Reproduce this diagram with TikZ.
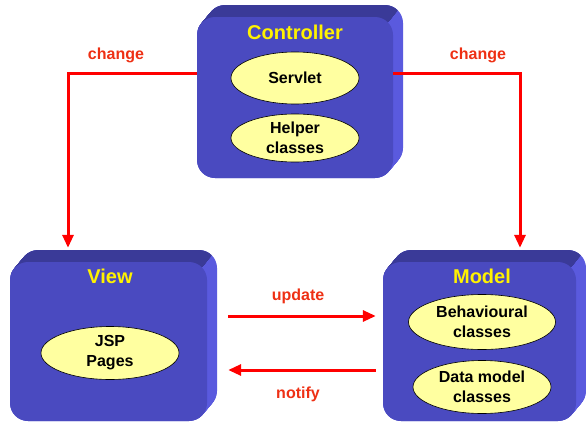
\documentclass[tikz,border=0pt]{standalone}
\usepackage{fontspec}
\setmainfont{Liberation Sans}
\usetikzlibrary{shapes.geometric,arrows.meta}

\definecolor{facefront}{RGB}{74,74,192}
\definecolor{facetop}{RGB}{58,58,152}
\definecolor{faceside}{RGB}{90,90,222}
\definecolor{pale}{RGB}{255,255,160}
\definecolor{labelred}{RGB}{238,48,20}

\tikzset{
    front/.style={fill=facefront, rounded corners=18pt, inner sep=0pt},
    side/.style={fill=faceside, rounded corners=18pt},
    top/.style={fill=facetop, rounded corners=18pt},
    title/.style={text=yellow, font=\fontsize{20}{22}\selectfont\bfseries},
    part/.style={ellipse, draw=black, line width=0.6pt, fill=pale, inner sep=0pt,
        align=center, font=\fontsize{16}{20}\selectfont\bfseries},
    flow/.style={red, line width=3pt, -{Triangle[length=13pt,width=11pt]}},
    flowlabel/.style={text=labelred, font=\fontsize{16}{18}\selectfont\bfseries}
}

\begin{document}
\begin{tikzpicture}[x=1pt,y=-1pt]
    \useasboundingbox (0,0) rectangle (586,423);

    % controller block
    \foreach \d in {0,0.5,...,10}
        \fill[side, shift={(\d,-1.2*\d)}] (197,17) rectangle (393,178);
    \begin{scope}
        \clip (187,-10) -- (414.6,-10) -- (381.3,30) -- (187,30) -- cycle;
        \foreach \d in {0,0.5,...,10}
            \fill[top, shift={(\d,-1.2*\d)}] (197,17) rectangle (393,178);
    \end{scope}
    \node[front, minimum width=196pt, minimum height=161pt] (ctrl) at (295,97.5) {};
    \node[title] (ctrltitle) at (295,32) {Controller};
    \node[part, minimum width=128pt, minimum height=52pt] (servlet) at (295,78) {Servlet};
    \node[part, minimum width=128pt, minimum height=48pt] (helper) at (295,138) {Helper\\classes};

    % view block
    \foreach \d in {0,0.5,...,10}
        \fill[side, shift={(\d,-1.2*\d)}] (10,262) rectangle (207,421);
    \begin{scope}
        \clip (0,235) -- (228.6,235) -- (195.3,275) -- (0,275) -- cycle;
        \foreach \d in {0,0.5,...,10}
            \fill[top, shift={(\d,-1.2*\d)}] (10,262) rectangle (207,421);
    \end{scope}
    \node[front, minimum width=197pt, minimum height=159pt] (view) at (108.5,341.5) {};
    \node[title] (viewtitle) at (110,276) {View};
    \node[part, minimum width=138pt, minimum height=53pt] (jsp) at (110,353) {JSP\\Pages};

    % model block
    \foreach \d in {0,0.5,...,10}
        \fill[side, shift={(\d,-1.2*\d)}] (383,262) rectangle (576,421);
    \begin{scope}
        \clip (373,235) -- (597.6,235) -- (564.3,275) -- (373,275) -- cycle;
        \foreach \d in {0,0.5,...,10}
            \fill[top, shift={(\d,-1.2*\d)}] (383,262) rectangle (576,421);
    \end{scope}
    \node[front, minimum width=193pt, minimum height=159pt] (model) at (479.5,341.5) {};
    \node[title] (modeltitle) at (482,276) {Model};
    \node[part, minimum width=147pt, minimum height=55pt] (behaviour) at (482,322) {Behavioural\\classes};
    \node[part, minimum width=138pt, minimum height=53pt] (data) at (482,387) {Data model\\classes};

    % arrows
    \draw[flow] ([yshift=24.5pt]ctrl.west) -| ([xshift=-40.5pt,yshift=14pt]view.north);
    \draw[flow] ([yshift=24.5pt]ctrl.east) -| ([xshift=40.5pt,yshift=14pt]model.north);
    \draw[flow] ([xshift=21pt,yshift=25.5pt]view.east) -- ([xshift=-7pt,yshift=25.5pt]model.west);
    \draw[flow] ([xshift=-7pt,yshift=-28.5pt]model.west) -- ([xshift=21pt,yshift=-28.5pt]view.east);

    \node[flowlabel] (chL) at (116,55) {change};
    \node[flowlabel] (chR) at (478,55) {change};
    \node[flowlabel] (upd) at (298,296) {update};
    \node[flowlabel] (ntf) at (298,394) {notify};
\end{tikzpicture}
\end{document}
